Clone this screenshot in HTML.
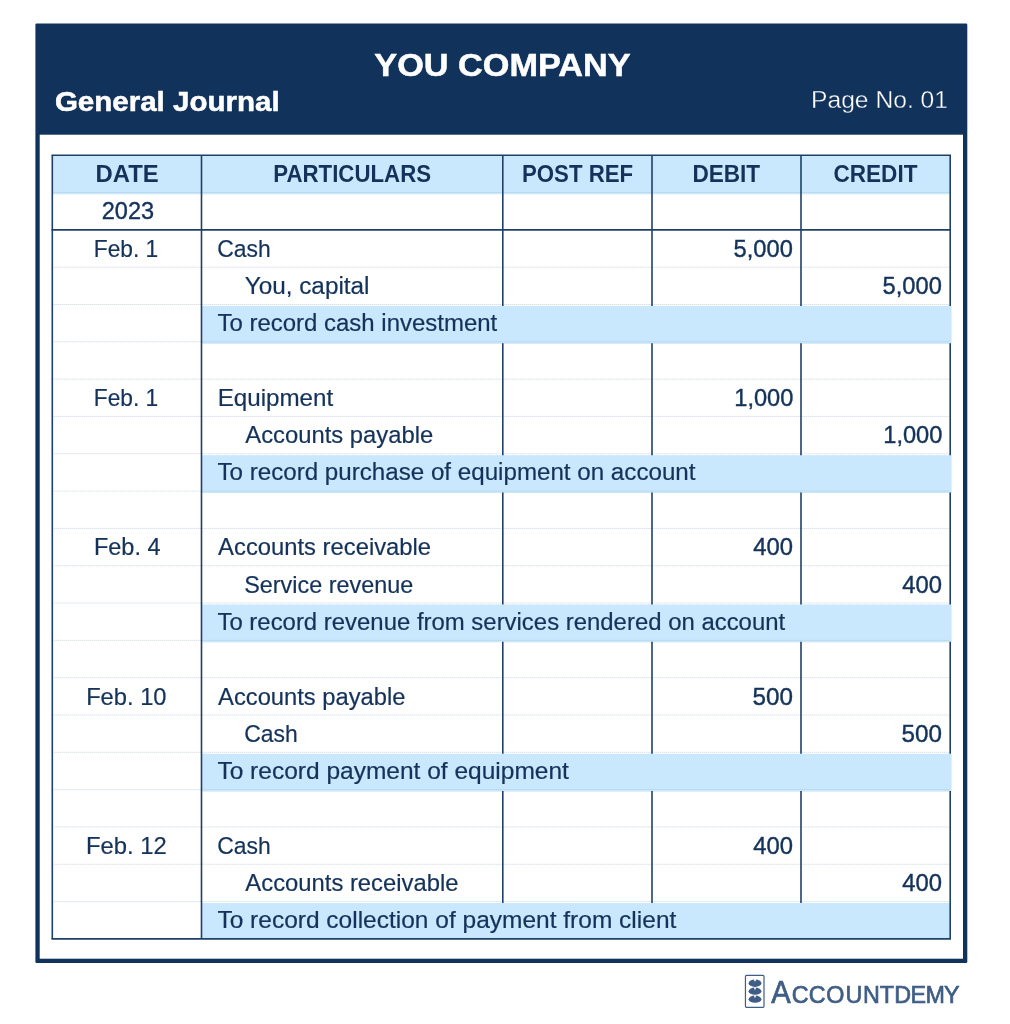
<!DOCTYPE html>
<html lang="en">
<head>
<meta charset="utf-8">
<title>General Journal - You Company</title>
<style>
html,body{margin:0;padding:0;background:#fff;}
body{width:1010px;height:1024px;overflow:hidden;}
svg{display:block;}
text{font-family:"Liberation Sans",sans-serif;white-space:pre;}
</style>
</head>
<body>
<svg width="1010" height="1024" viewBox="0 0 1010 1024">
<rect x="35.4" y="23.5" width="931.90" height="939.50" rx="1.2" fill="#11325a"/>
<rect x="39.699999999999996" y="134.7" width="923.30" height="824.00" fill="#ffffff"/>
<rect x="52.3" y="155.2" width="897.90" height="39.12" fill="#c9e8fd"/>
<rect x="201.5" y="305.88" width="750.10" height="37.92" fill="#c9e8fd"/>
<rect x="201.5" y="455.16" width="750.10" height="37.92" fill="#c9e8fd"/>
<rect x="201.5" y="604.44" width="750.10" height="37.92" fill="#c9e8fd"/>
<rect x="201.5" y="753.72" width="750.10" height="37.92" fill="#c9e8fd"/>
<rect x="201.5" y="903.00" width="748.70" height="35.92" fill="#c9e8fd"/>
<g stroke="#9fb0c4" stroke-width="1" stroke-dasharray="1 1" opacity="0.55">
<line x1="52.3" y1="192.52" x2="950.2" y2="192.52"/>
<line x1="52.3" y1="267.16" x2="950.2" y2="267.16"/>
<line x1="52.3" y1="304.48" x2="950.2" y2="304.48"/>
<line x1="52.3" y1="341.80" x2="950.2" y2="341.80"/>
<line x1="52.3" y1="379.12" x2="950.2" y2="379.12"/>
<line x1="52.3" y1="416.44" x2="950.2" y2="416.44"/>
<line x1="52.3" y1="453.76" x2="950.2" y2="453.76"/>
<line x1="52.3" y1="491.08" x2="950.2" y2="491.08"/>
<line x1="52.3" y1="528.40" x2="950.2" y2="528.40"/>
<line x1="52.3" y1="565.72" x2="950.2" y2="565.72"/>
<line x1="52.3" y1="603.04" x2="950.2" y2="603.04"/>
<line x1="52.3" y1="640.36" x2="950.2" y2="640.36"/>
<line x1="52.3" y1="677.68" x2="950.2" y2="677.68"/>
<line x1="52.3" y1="715.00" x2="950.2" y2="715.00"/>
<line x1="52.3" y1="752.32" x2="950.2" y2="752.32"/>
<line x1="52.3" y1="789.64" x2="950.2" y2="789.64"/>
<line x1="52.3" y1="826.96" x2="950.2" y2="826.96"/>
<line x1="52.3" y1="864.28" x2="950.2" y2="864.28"/>
<line x1="52.3" y1="901.60" x2="950.2" y2="901.60"/>
</g>
<g stroke="#1f4069" stroke-width="1.6" fill="none">
<line x1="51.5" y1="155.2" x2="951.0" y2="155.2"/>
<line x1="51.5" y1="229.84" x2="951.0" y2="229.84"/>
<line x1="51.5" y1="938.92" x2="951.0" y2="938.92"/>
<line x1="52.3" y1="155.2" x2="52.3" y2="938.92"/>
<line x1="201.5" y1="155.2" x2="201.5" y2="938.92"/>
<line x1="502.8" y1="155.20" x2="502.8" y2="305.88"/>
<line x1="502.8" y1="343.20" x2="502.8" y2="455.16"/>
<line x1="502.8" y1="492.48" x2="502.8" y2="604.44"/>
<line x1="502.8" y1="641.76" x2="502.8" y2="753.72"/>
<line x1="502.8" y1="791.04" x2="502.8" y2="903.00"/>
<line x1="652.0" y1="155.20" x2="652.0" y2="305.88"/>
<line x1="652.0" y1="343.20" x2="652.0" y2="455.16"/>
<line x1="652.0" y1="492.48" x2="652.0" y2="604.44"/>
<line x1="652.0" y1="641.76" x2="652.0" y2="753.72"/>
<line x1="652.0" y1="791.04" x2="652.0" y2="903.00"/>
<line x1="801.0" y1="155.20" x2="801.0" y2="305.88"/>
<line x1="801.0" y1="343.20" x2="801.0" y2="455.16"/>
<line x1="801.0" y1="492.48" x2="801.0" y2="604.44"/>
<line x1="801.0" y1="641.76" x2="801.0" y2="753.72"/>
<line x1="801.0" y1="791.04" x2="801.0" y2="903.00"/>
<line x1="950.2" y1="155.20" x2="950.2" y2="305.88"/>
<line x1="950.2" y1="343.20" x2="950.2" y2="455.16"/>
<line x1="950.2" y1="492.48" x2="950.2" y2="604.44"/>
<line x1="950.2" y1="641.76" x2="950.2" y2="753.72"/>
<line x1="950.2" y1="791.04" x2="950.2" y2="938.92"/>
</g>
<text transform="translate(95.51 182.26) scale(0.9934 1)" font-size="24" font-weight="700" fill="#14325a">DATE</text>
<text transform="translate(273.30 182.26) scale(0.9276 1)" font-size="24" font-weight="700" fill="#14325a">PARTICULARS</text>
<text transform="translate(521.96 182.26) scale(0.9265 1)" font-size="24" font-weight="700" fill="#14325a">POST REF</text>
<text transform="translate(692.40 182.26) scale(0.9419 1)" font-size="24" font-weight="700" fill="#14325a">DEBIT</text>
<text transform="translate(833.46 182.26) scale(0.9408 1)" font-size="24" font-weight="700" fill="#14325a">CREDIT</text>
<text transform="translate(101.78 219.18) scale(0.9814 1)" font-size="24" fill="#14325a" stroke="#14325a" stroke-width="0.4">2023</text>
<text transform="translate(93.82 256.70) scale(0.9668 1)" font-size="23.5" fill="#14325a" stroke="#14325a" stroke-width="0.2">Feb. 1</text>
<text transform="translate(217.25 256.70) scale(0.9750 1)" font-size="23.5" fill="#14325a" stroke="#14325a" stroke-width="0.2">Cash</text>
<text transform="translate(733.57 256.70) scale(0.9871 1)" font-size="24" fill="#14325a" stroke="#14325a" stroke-width="0.4">5,000</text>
<text transform="translate(244.75 294.02) scale(1.0340 1)" font-size="23.5" fill="#14325a" stroke="#14325a" stroke-width="0.2">You, capital</text>
<text transform="translate(882.57 294.02) scale(0.9871 1)" font-size="24" fill="#14325a" stroke="#14325a" stroke-width="0.4">5,000</text>
<text transform="translate(217.45 331.14) scale(1.0205 1)" font-size="23.5" fill="#14325a" stroke="#14325a" stroke-width="0.2">To record cash investment</text>
<text transform="translate(93.82 405.98) scale(0.9668 1)" font-size="23.5" fill="#14325a" stroke="#14325a" stroke-width="0.2">Feb. 1</text>
<text transform="translate(217.65 405.98) scale(1.0294 1)" font-size="23.5" fill="#14325a" stroke="#14325a" stroke-width="0.2">Equipment</text>
<text transform="translate(734.29 405.98) scale(0.9838 1)" font-size="24" fill="#14325a" stroke="#14325a" stroke-width="0.4">1,000</text>
<text transform="translate(245.35 443.30) scale(1.0134 1)" font-size="23.5" fill="#14325a" stroke="#14325a" stroke-width="0.2">Accounts payable</text>
<text transform="translate(883.29 443.30) scale(0.9838 1)" font-size="24" fill="#14325a" stroke="#14325a" stroke-width="0.4">1,000</text>
<text transform="translate(217.45 480.42) scale(1.0280 1)" font-size="23.5" fill="#14325a" stroke="#14325a" stroke-width="0.2">To record purchase of equipment on account</text>
<text transform="translate(93.89 555.26) scale(1.0003 1)" font-size="23.5" fill="#14325a" stroke="#14325a" stroke-width="0.2">Feb. 4</text>
<text transform="translate(218.11 555.26) scale(1.0135 1)" font-size="23.5" fill="#14325a" stroke="#14325a" stroke-width="0.2">Accounts receivable</text>
<text transform="translate(753.19 555.26) scale(0.9922 1)" font-size="24" fill="#14325a" stroke="#14325a" stroke-width="0.4">400</text>
<text transform="translate(244.18 592.58) scale(0.9958 1)" font-size="23.5" fill="#14325a" stroke="#14325a" stroke-width="0.2">Service revenue</text>
<text transform="translate(902.19 592.58) scale(0.9922 1)" font-size="24" fill="#14325a" stroke="#14325a" stroke-width="0.4">400</text>
<text transform="translate(217.45 629.70) scale(1.0185 1)" font-size="23.5" fill="#14325a" stroke="#14325a" stroke-width="0.2">To record revenue from services rendered on account</text>
<text transform="translate(86.14 704.54) scale(1.0091 1)" font-size="23.5" fill="#14325a" stroke="#14325a" stroke-width="0.2">Feb. 10</text>
<text transform="translate(218.10 704.54) scale(1.0102 1)" font-size="23.5" fill="#14325a" stroke="#14325a" stroke-width="0.2">Accounts payable</text>
<text transform="translate(752.42 704.54) scale(1.0106 1)" font-size="24" fill="#14325a" stroke="#14325a" stroke-width="0.4">500</text>
<text transform="translate(244.27 741.86) scale(0.9767 1)" font-size="23.5" fill="#14325a" stroke="#14325a" stroke-width="0.2">Cash</text>
<text transform="translate(901.42 741.86) scale(1.0106 1)" font-size="24" fill="#14325a" stroke="#14325a" stroke-width="0.4">500</text>
<text transform="translate(217.42 778.98) scale(1.0437 1)" font-size="23.5" fill="#14325a" stroke="#14325a" stroke-width="0.2">To record payment of equipment</text>
<text transform="translate(86.06 853.82) scale(1.0136 1)" font-size="23.5" fill="#14325a" stroke="#14325a" stroke-width="0.2">Feb. 12</text>
<text transform="translate(217.25 853.82) scale(0.9750 1)" font-size="23.5" fill="#14325a" stroke="#14325a" stroke-width="0.2">Cash</text>
<text transform="translate(753.19 853.82) scale(0.9922 1)" font-size="24" fill="#14325a" stroke="#14325a" stroke-width="0.4">400</text>
<text transform="translate(245.35 891.14) scale(1.0138 1)" font-size="23.5" fill="#14325a" stroke="#14325a" stroke-width="0.2">Accounts receivable</text>
<text transform="translate(902.19 891.14) scale(0.9922 1)" font-size="24" fill="#14325a" stroke="#14325a" stroke-width="0.4">400</text>
<text transform="translate(217.42 928.26) scale(1.0430 1)" font-size="23.5" fill="#14325a" stroke="#14325a" stroke-width="0.2">To record collection of payment from client</text>
<text transform="translate(374.32 75.80) scale(1.1046 1)" font-size="31" font-weight="700" fill="#ffffff" stroke="#ffffff" stroke-width="0.5">YOU COMPANY</text>
<text transform="translate(54.89 110.50) scale(1.0936 1)" font-size="27" font-weight="700" fill="#ffffff" stroke="#ffffff" stroke-width="0.5">General Journal</text>
<text transform="translate(810.98 107.60) scale(1.0495 1)" font-size="23.5" fill="#ffffff" stroke="#11325a" stroke-width="0.35">Page No. 01</text>
<g>
<rect x="745.45" y="975.45" width="18.55" height="31.9" rx="1" fill="#fff" stroke="#3f5d85" stroke-width="1.2"/>
<ellipse cx="755" cy="983.15" rx="6.4" ry="3.75" fill="#3f5d85"/>
<rect x="754.2" y="979.10" width="1.6" height="2.1" fill="#fff"/>
<ellipse cx="755" cy="991.2" rx="6.4" ry="3.6" fill="#3f5d85"/>
<rect x="754.2" y="987.30" width="1.6" height="2.1" fill="#fff"/>
<ellipse cx="755" cy="999.2" rx="6.4" ry="3.6" fill="#3f5d85"/>
<rect x="754.2" y="995.30" width="1.6" height="2.1" fill="#fff"/>
</g>
<text transform="scale(0.94 1)" y="1002.7" fill="#3f5d85" stroke="#3f5d85" stroke-width="0.7" text-anchor="middle"><tspan x="830.7" font-size="31">A</tspan><tspan x="851.3 869.4 888.7 908.3 927.0 943.5 960.2 976.8 994.8 1012.5" font-size="24.8">CCOUNTDEMY</tspan></text>
</svg>
</body>
</html>
